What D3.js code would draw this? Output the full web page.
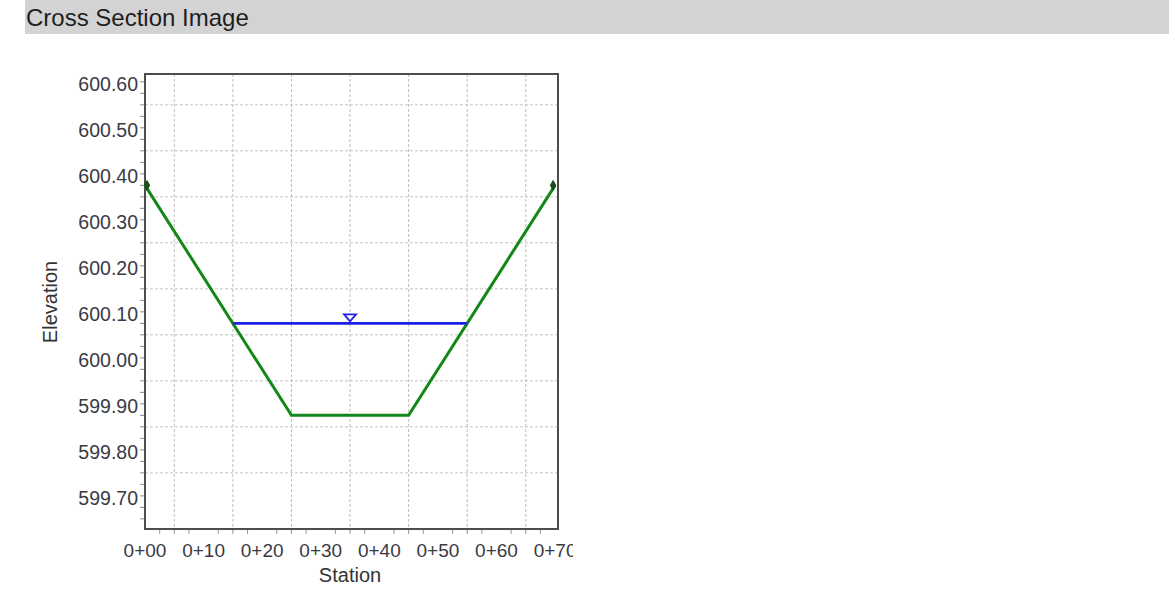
<!DOCTYPE html>
<html>
<head>
<meta charset="utf-8">
<script src="https://cdn.jsdelivr.net/npm/d3@7"></script>
<style>
  html, body { margin: 0; padding: 0; background: #ffffff; }
  svg { display: block; }
</style>
</head>
<body>
<svg id="chart" width="1169" height="595"></svg>
<script>
// ---- data ----
const title = "Cross Section Image";
const groundStations = [0, 25, 45, 70];
const groundElevations = [600.38, 599.88, 599.88, 600.38];
const waterStations = [15, 55];
const waterElevation = 600.08;
const waterMarkerStation = 35;
const xTickValues = [0, 10, 20, 30, 40, 50, 60, 70];
const xTickLabels = ["0+00", "0+10", "0+20", "0+30", "0+40", "0+50", "0+60", "0+70"];
const yTickValues = [600.60, 600.50, 600.40, 600.30, 600.20, 600.10, 600.00, 599.90, 599.80, 599.70];
const yTickLabels = ["600.60", "600.50", "600.40", "600.30", "600.20", "600.10", "600.00", "599.90", "599.80", "599.70"];
const xGridValues = [5, 15, 25, 35, 45, 55, 65];
const yGridValues = [600.555, 600.455, 600.355, 600.255, 600.155, 600.055, 599.955, 599.855, 599.755];
const xMinorTicks = [2.5, 5, 7.5, 12.5, 15, 17.5, 22.5, 25, 27.5, 32.5, 35, 37.5, 42.5, 45, 47.5, 52.5, 55, 57.5, 62.5, 65, 67.5];
const yMinorTicks = [600.605, 600.58, 600.555, 600.53, 600.505, 600.48, 600.455, 600.43, 600.405, 600.38, 600.355, 600.33, 600.305, 600.28, 600.255, 600.23, 600.205, 600.18, 600.155, 600.13, 600.105, 600.08, 600.055, 600.03, 600.005, 599.98, 599.955, 599.93, 599.905, 599.88, 599.855, 599.83, 599.805, 599.78, 599.755, 599.73, 599.705, 599.68, 599.655];
const xTitle = "Station";
const yTitle = "Elevation";

// ---- layout ----
const svg = d3.select("#chart");
const plot = { left: 145, right: 558, top: 74, bottom: 529 };
const x = d3.scaleLinear().domain([0, 70.5]).range([plot.left, plot.right]);
const y = d3.scaleLinear().domain([599.633, 600.622]).range([plot.bottom, plot.top]);
const font = "'Liberation Sans', Arial, Helvetica, sans-serif";

// header bar
svg.append("rect").attr("x", 25).attr("y", 0).attr("width", 1144).attr("height", 34).attr("fill", "#d3d3d3");
svg.append("text").attr("x", 26).attr("y", 26).attr("font-family", font).attr("font-size", 24)
  .attr("fill", "#1e1e1e").text(title);

// clip for the chart image
svg.append("defs").append("clipPath").attr("id", "clipChart")
  .append("rect").attr("x", 0).attr("y", 40).attr("width", 573).attr("height", 555);
const g = svg.append("g").attr("clip-path", "url(#clipChart)");

// grid
g.append("g").selectAll("line").data(xGridValues).join("line")
  .attr("x1", d => x(d)).attr("x2", d => x(d)).attr("y1", plot.top).attr("y2", plot.bottom + 5)
  .attr("stroke", "#bdbdbd").attr("stroke-width", 1).attr("stroke-dasharray", "3,2");
g.append("g").selectAll("line").data(yGridValues).join("line")
  .attr("x1", plot.left).attr("x2", plot.right).attr("y1", d => y(d)).attr("y2", d => y(d))
  .attr("stroke", "#c4c4c4").attr("stroke-width", 1).attr("stroke-dasharray", "3,2");

// minor ticks
g.append("g").selectAll("line").data(xMinorTicks).join("line")
  .attr("x1", d => x(d)).attr("x2", d => x(d)).attr("y1", plot.bottom + 1).attr("y2", plot.bottom + 5)
  .attr("stroke", "#9a9a9a").attr("stroke-width", 1);
g.append("g").selectAll("line").data(yMinorTicks).join("line")
  .attr("x1", plot.left - 5).attr("x2", plot.left - 1).attr("y1", d => y(d)).attr("y2", d => y(d))
  .attr("stroke", "#8a8a8a").attr("stroke-width", 1);

// frame
g.append("rect").attr("x", plot.left).attr("y", plot.top)
  .attr("width", plot.right - plot.left).attr("height", plot.bottom - plot.top)
  .attr("fill", "none").attr("stroke", "#4d4d4d").attr("stroke-width", 2);

// ground line
const ground = groundStations.map((s, i) => [s, groundElevations[i]]);
g.append("path").datum(ground)
  .attr("d", d3.line().x(d => x(d[0])).y(d => y(d[1])))
  .attr("fill", "none").attr("stroke", "#14871a").attr("stroke-width", 3).attr("stroke-linejoin", "miter");

// end markers
g.append("g").selectAll("path").data([ground[0], ground[ground.length - 1]]).join("path")
  .attr("transform", (d, i) => `translate(${x(d[0]) + (i === 0 ? 2 : -2)},${y(d[1])})`)
  .attr("d", d3.symbol().type(d3.symbolDiamond).size(36))
  .attr("fill", "#1c4a1c");

// water surface
g.append("path").datum(waterStations.map(s => [s, waterElevation]))
  .attr("d", d3.line().x(d => x(d[0])).y(d => y(d[1])))
  .attr("fill", "none").attr("stroke", "#1f1fe6").attr("stroke-width", 2.8);

// water marker (inverted triangle)
const tx = x(waterMarkerStation), ty = y(waterElevation);
g.append("path")
  .attr("d", `M${tx - 6},${ty - 9} L${tx + 6},${ty - 9} L${tx},${ty - 2} Z`)
  .attr("fill", "#ffffff").attr("stroke", "#1f1fe6").attr("stroke-width", 1.8);

// tick labels
g.append("g").selectAll("text").data(yTickValues).join("text")
  .attr("x", 138).attr("y", d => y(d)).attr("dy", "0.36em")
  .attr("text-anchor", "end").attr("font-family", font).attr("font-size", 19.5)
  .attr("fill", "#3a3a44").text((d, i) => yTickLabels[i]);
g.append("g").selectAll("text").data(xTickValues).join("text")
  .attr("x", d => x(d)).attr("y", 557)
  .attr("text-anchor", "middle").attr("font-family", font).attr("font-size", 19)
  .attr("fill", "#3a3a44").text((d, i) => xTickLabels[i]);

// axis titles
g.append("text").attr("x", 350).attr("y", 582).attr("text-anchor", "middle")
  .attr("font-family", font).attr("font-size", 20).attr("fill", "#333").text(xTitle);
g.append("text").attr("transform", "translate(57,302) rotate(-90)").attr("text-anchor", "middle")
  .attr("font-family", font).attr("font-size", 20).attr("fill", "#333").text(yTitle);
</script>
</body>
</html>
